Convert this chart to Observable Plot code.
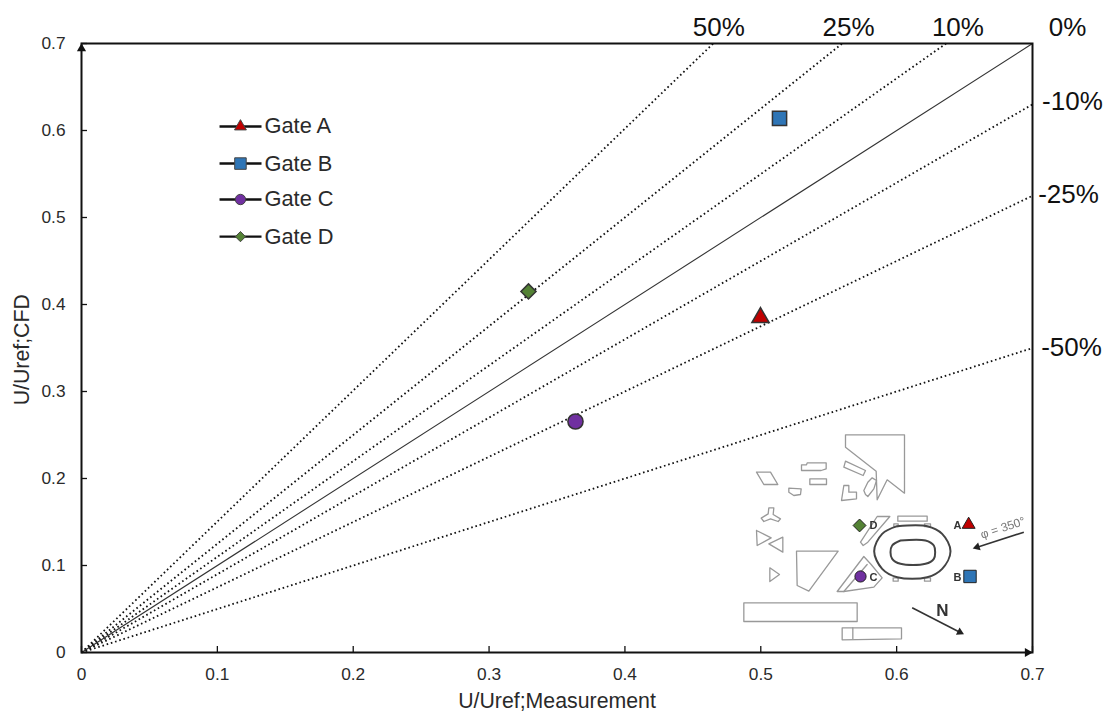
<!DOCTYPE html>
<html><head><meta charset="utf-8">
<script src="https://cdn.jsdelivr.net/npm/d3@7"></script>
<script src="https://cdn.jsdelivr.net/npm/@observablehq/plot@0.6"></script>
<style>html,body{margin:0;padding:0;background:#fff}svg{display:block}</style>
</head><body><div id="c"></div>
<script>
// Measured points
const gates = ["Gate A","Gate B","Gate C","Gate D"];
const measured = [0.4998,0.5138,0.3636,0.329];
const cfd = [0.385,0.614,0.2655,0.415];
const symbols = ["triangle","square","circle","diamond2"];
const colors = ["#c00000","#2e75b6","#7030a0","#548235"];
const dataSizes = [6.4,8,7.6,6.8];
const legendSizes = [4.4,6.5,5.2,4.6];
const mapSizes = [4.8,7,5.6,5.8];

// Deviation lines
const devLabels = ["50%","25%","10%","0%","-10%","-25%","-50%"];
const devEndX = [0.465,0.56,0.6364,0.7,0.7,0.7,0.7];
const devEndY = [0.7,0.7,0.7,0.7,0.63,0.525,0.35];
const devLabelX = [0.4691,0.5646,0.6451,0.7258,0.7294,0.7265,0.7287];
const devLabelY = [0.718,0.718,0.718,0.718,0.6333,0.5264,0.3506];

// Axes
const tickValues = [0,0.1,0.2,0.3,0.4,0.5,0.6,0.7];
const xTitle = "U/Uref;Measurement";
const yTitle = "U/Uref;CFD";

// Legend
const legendY = [0.6046,0.562,0.5207,0.478];
const legendX1 = 0.1016, legendX2 = 0.1325, legendSymX = 0.117, legendTextX = 0.1347;

// Inset site map, in map units
const mapPolys = [
 [[345,43],[522,43],[522,218],[470,178],[440,238],[437,152],[345,80]],
 [[345,122],[405,150],[398,165],[340,140]],
 [[405,222],[400,210],[412,185],[425,172],[438,180],[430,205],[412,228]],
 [[340,195],[355,195],[355,215],[378,215],[378,235],[333,240]],
 [[213,133],[228,133],[230,127],[287,127],[287,145],[272,150],[213,150]],
 [[238,175],[288,175],[288,192],[238,192]],
 [[78,155],[120,155],[142,192],[100,192]],
 [[175,203],[212,205],[210,222],[190,225],[175,215]],
 [[115,262],[130,262],[128,282],[150,295],[143,303],[120,295],[100,303],[92,293],[113,280]],
 [[78,330],[122,352],[80,375]],
 [[157,350],[157,395],[115,370]],
 [[118,442],[147,462],[118,483]],
 [[198,392],[323,392],[235,512],[200,495]],
 [[320,513],[400,408],[422,432],[455,472],[430,500],[340,513]],
 [[340,513],[410,432]],
 [[390,365],[440,288],[478,288],[412,365],[398,375]],
 [[40,547],[380,547],[380,603],[40,603]],
 [[335,622],[513,622],[513,655],[335,658]],
 [[367,622],[367,655]],
 [[502,287],[590,287],[590,302],[502,302]],
 [[490,310],[503,310],[503,318],[490,318]],
 [[582,310],[600,310],[600,318],[582,318]],
 [[488,472],[503,472],[503,482],[488,482]],
 [[582,472],[600,472],[600,482],[582,482]]
];
const stadiumOuter = [[500,317],[590,317],[635,340],[660,392],[635,445],[590,470],[500,470],[455,445],[431,392],[455,340]];
const stadiumInner = [[510,360],[585,360],[610,375],[614,395],[610,415],[585,430],[510,430],[485,415],[480,395],[485,375]];
const mapArrows = [[545,562,688,635],[880,335,740,380]];
const mapArrowRotate = [117,-108];
const mapMarkX = [0.653,0.654,0.5734,0.5727];
const mapMarkY = [0.147,0.0874,0.0874,0.146];
const mapLetters = ["A","B","C","D"];
const mapLetterX = [0.6448,0.6448,0.583,0.583];
const mapLetterY = [0.146,0.0862,0.0862,0.146];

const mx = u => (u/3+649)*0.7/951;
const my = v => (232-v/3)*0.7/609;
const polyRows = mapPolys.flatMap((p,id)=>{
  const pts = p.length>2 ? [...p,p[0]] : p;
  return pts.map(([u,v])=>({id,x:mx(u),y:my(v)}));
});
const ring = a => [...a,a[0]].map(([u,v])=>({x:mx(u),y:my(v)}));

const idx = d3.range(gates.length);
const devIdx = d3.range(devLabels.length);
const ink = "#111";
const label = "#2a2a2a";
const fontFamily = "'Liberation Sans', Arial, sans-serif";
const fmt = d => d===0 ? "0" : d3.format(".1f")(d);
const soft = (index,scales,values,dims,ctx,next) => {
  const g = next(index,scales,values,dims,ctx);
  g.style.filter = "blur(.45px)";
  return g;
};
const map = {render:soft};

const chart = Plot.plot({
  width:1108,height:713,
  marginLeft:81,marginRight:76,marginTop:43,marginBottom:61,
  style:{fontFamily,background:"#fff",color:label},
  x:{domain:[0,0.7]},
  y:{domain:[0,0.7]},
  marks:[
    // site map
    Plot.line(polyRows,{...map,x:"x",y:"y",z:"id",stroke:"#999",strokeWidth:1.3}),
    Plot.line(ring(stadiumOuter),{...map,x:"x",y:"y",stroke:"#444",strokeWidth:2,curve:"catmull-rom"}),
    Plot.line(ring(stadiumInner),{...map,x:"x",y:"y",stroke:"#444",strokeWidth:2,curve:"catmull-rom"}),
    Plot.link(mapArrows,{...map,x1:d=>mx(d[0]),y1:d=>my(d[1]),x2:d=>mx(d[2]),y2:d=>my(d[3]),stroke:"#333",strokeWidth:1.6}),
    Plot.dot([0,1],{...map,x:i=>mx(mapArrows[i][2]),y:i=>my(mapArrows[i][3]),symbol:"triangle",r:3,fill:"#222",rotate:i=>mapArrowRotate[i]}),
    Plot.text(["N"],{...map,x:mx(636),y:my(570),text:d=>d,fontSize:17,fontWeight:"bold",fill:"#333"}),
    Plot.text(["φ = 350°"],{...map,x:mx(817),y:my(322),text:d=>d,fontSize:12,rotate:-18,fill:"#777"}),
    Plot.text(idx,{...map,x:i=>mapLetterX[i],y:i=>mapLetterY[i],text:i=>mapLetters[i],fontSize:11,fontWeight:"bold",fill:"#333"}),
    ...idx.map(i=>Plot.dot([i],{x:()=>mapMarkX[i],y:()=>mapMarkY[i],symbol:symbols[i],fill:colors[i],r:mapSizes[i],stroke:"#222",strokeWidth:1})),
    // deviation lines
    Plot.link(devIdx.filter(i=>i!==3),{x1:()=>0,y1:()=>0,x2:i=>devEndX[i],y2:i=>devEndY[i],stroke:"#111",strokeWidth:1.8,strokeDasharray:"1.6 2.8"}),
    Plot.link([3],{x1:()=>0,y1:()=>0,x2:i=>devEndX[i],y2:i=>devEndY[i],stroke:"#333",strokeWidth:1.1}),
    Plot.text(devIdx,{x:i=>devLabelX[i],y:i=>devLabelY[i],text:i=>devLabels[i],fontSize:26,fill:"#111"}),
    // frame and axes
    Plot.frame({stroke:ink,strokeWidth:2}),
    Plot.axisX(tickValues,{tickSize:-6,text:null,stroke:ink,strokeWidth:1.3,label:null}),
    Plot.axisX(tickValues,{tickSize:0,tickPadding:15,tickFormat:fmt,fontSize:17.3,label:null,fill:label}),
    Plot.axisY(tickValues,{tickSize:-6,text:null,stroke:ink,strokeWidth:1.3,label:null}),
    Plot.axisY(tickValues,{tickSize:0,tickPadding:16,tickFormat:fmt,fontSize:17.3,label:null,fill:label}),
    Plot.text([xTitle],{x:()=>0.35,y:()=>-0.0565,text:d=>d,fontSize:21.3,fill:label}),
    Plot.text([yTitle],{x:()=>-0.0435,y:()=>0.348,text:d=>d,fontSize:21.3,rotate:-90,fill:label}),
    Plot.dot([0],{x:()=>0,y:()=>0.7,dy:5,symbol:"triangle",r:3.4,fill:"#111"}),
    Plot.dot([0],{x:()=>0.7,y:()=>0,dx:-5,symbol:"triangle",r:3.4,fill:"#111",rotate:90}),
    // data
    ...idx.map(i=>Plot.dot([i],{x:()=>measured[i],y:()=>cfd[i],symbol:symbols[i],fill:colors[i],r:dataSizes[i],stroke:"#333",strokeWidth:1.5})),
    // legend
    Plot.link(idx,{x1:()=>legendX1,x2:()=>legendX2,y1:i=>legendY[i],y2:i=>legendY[i],stroke:"#111",strokeWidth:2.4}),
    ...idx.map(i=>Plot.dot([i],{x:()=>legendSymX,y:()=>legendY[i],symbol:symbols[i],fill:colors[i],r:legendSizes[i],stroke:"#444",strokeWidth:1})),
    Plot.text(idx,{x:()=>legendTextX,y:i=>legendY[i],text:i=>gates[i],textAnchor:"start",fontSize:21.8,fill:label})
  ]
});
document.getElementById("c").append(chart);
</script></body></html>
